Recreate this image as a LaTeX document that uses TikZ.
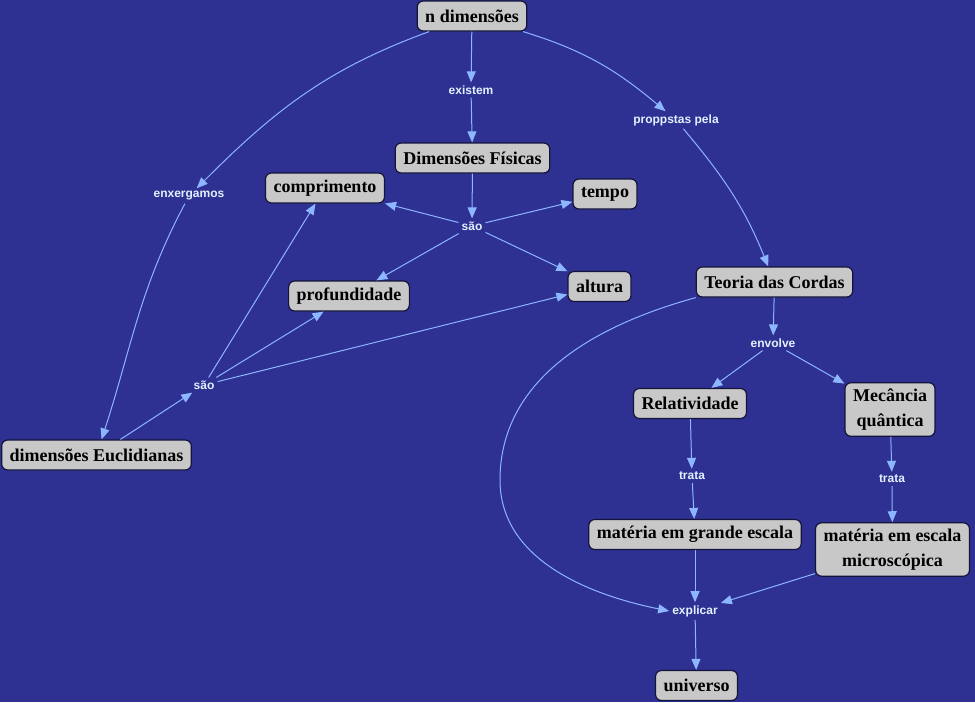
\documentclass[tikz,border=0pt]{standalone}
\usepackage{fontspec}
\setmainfont{Liberation Serif}
\newfontfamily\linkfont{Liberation Sans}
\usetikzlibrary{arrows.meta}
\definecolor{Board}{HTML}{2E3192}
\definecolor{Card}{HTML}{C8C8C8}
\definecolor{Edge}{HTML}{14143A}
\definecolor{Wire}{HTML}{8CB6FF}
\definecolor{Ink}{HTML}{E4F0FF}
\tikzset{
  linkarrow/.style={-{Triangle[length=11pt,width=9pt]},line width=1pt,draw=Wire},
  conceptbox/.style={rounded corners=6pt,minimum height=30pt,align=center,inner xsep=8pt,inner ysep=6pt,
    draw=Edge,line width=1.2pt,fill=Card,text=black,font=\fontsize{18}{25}\selectfont\bfseries},
  linkword/.style={inner sep=3pt,text=Ink,font=\linkfont\fontsize{12}{14}\selectfont\bfseries},
}

\begin{document}
\begin{tikzpicture}[x=1pt,y=1pt]
    \useasboundingbox (0,0) rectangle (975,-702);
    \fill[Board] (0,0) rectangle (975,-702);

    \node[conceptbox] (nDim) at (472,-16) {n dimensões};
    \node[conceptbox] (dimFis) at (472.5,-158) {Dimensões Físicas};
    \node[conceptbox] (comprimento) at (325,-188) {comprimento};
    \node[conceptbox] (tempo) at (605,-194) {tempo};
    \node[conceptbox] (profund) at (349,-296) {profundidade};
    \node[conceptbox] (altura) at (599.5,-286.5) {altura};
    \node[conceptbox] (teoria) at (774.5,-282) {Teoria das Cordas};
    \node[conceptbox] (relat) at (690,-403.5) {Relatividade};
    \node[conceptbox] (mecQ) at (890,-409.5) {Mecância\\quântica};
    \node[conceptbox] (dimEuc) at (96.5,-455) {dimensões Euclidianas};
    \node[conceptbox] (matGrande) at (695,-534.5) {matéria em grande escala};
    \node[conceptbox] (matMicro) at (892.5,-549.5) {matéria em escala\\microscópica};
    \node[conceptbox] (universo) at (696.5,-685.5) {universo};

    \node[linkword] (existem) at (471,-90) {existem};
    \node[linkword] (propostas) at (676,-120) {proppstas pela};
    \node[linkword] (enxergamos) at (189,-196) {enxergamos};
    \node[linkword] (saoA) at (472,-226) {são};
    \node[linkword] (saoB) at (204,-385) {são};
    \node[linkword] (envolve) at (773,-343) {envolve};
    \node[linkword] (trataA) at (692,-476) {trata};
    \node[linkword] (trataB) at (892,-479) {trata};
    \node[linkword] (explicar) at (695,-611) {explicar};

    \draw[linkarrow] (nDim) -- (existem);
    \draw[linkarrow] (existem) -- (dimFis);
    \draw[linkarrow] (nDim) to[out=200,in=45] (enxergamos);
    \draw[linkarrow] (enxergamos) to[out=242,in=72] (dimEuc);
    \draw[linkarrow] (nDim) to[out=-17,in=140] (propostas);
    \draw[linkarrow] (propostas) to[out=-50,in=112] (teoria);

    \draw[linkarrow] (dimFis) -- (saoA);
    \draw[linkarrow] (saoA) -- (comprimento);
    \draw[linkarrow] (saoA) -- (tempo);
    \draw[linkarrow] (saoA) -- (profund);
    \draw[linkarrow] (saoA) -- (altura);

    \draw[linkarrow] (dimEuc) -- (saoB);
    \draw[linkarrow] (saoB) -- (comprimento);
    \draw[linkarrow] (saoB) -- (profund);
    \draw[linkarrow] (saoB) -- (altura);

    \draw[linkarrow] (teoria) -- (envolve);
    \draw[linkarrow] (envolve) -- (relat);
    \draw[linkarrow] (envolve) -- (mecQ);
    \draw[linkarrow] (relat) -- (trataA);
    \draw[linkarrow] (trataA) -- (matGrande);
    \draw[linkarrow] (mecQ) -- (trataB);
    \draw[linkarrow] (trataB) -- (matMicro);

    \draw[linkarrow] (teoria.south west) .. controls (560,-335) and (500,-400) .. (500,-480)
      .. controls (500,-560) and (590,-595) .. (explicar.west);
    \draw[linkarrow] (matGrande) -- (explicar);
    \draw[linkarrow] (matMicro) -- (explicar);
    \draw[linkarrow] (explicar) -- (universo);
\end{tikzpicture}
\end{document}
